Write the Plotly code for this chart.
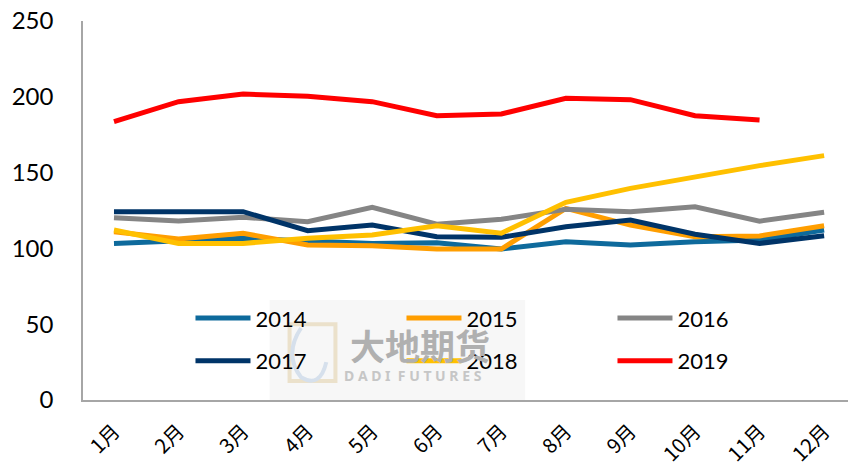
import plotly.graph_objects as go

months = ["1月", "2月", "3月", "4月", "5月", "6月", "7月", "8月", "9月", "10月", "11月", "12月"]
y2014 = [103.3, 104.9, 106.7, 104.9, 103.3, 103.8, 99.6, 104.4, 102.2, 104.4, 105.5, 112.1]
y2015 = [111.0, 106.2, 110.0, 102.2, 101.8, 99.6, 99.6, 126.4, 115.4, 107.7, 108.2, 115.0]
y2016 = [120.3, 118.0, 120.5, 117.6, 127.1, 116.0, 119.2, 125.8, 124.2, 127.5, 118.0, 123.8]
y2017 = [124.2, 124.2, 124.2, 111.7, 115.4, 107.7, 107.3, 114.3, 118.7, 109.3, 103.3, 108.4]
y2018 = [112.1, 103.3, 103.3, 106.7, 108.8, 115.0, 110.0, 130.4, 139.6, 147.3, 154.6, 161.2]
y2019 = [183.6, 196.8, 201.8, 200.3, 196.8, 187.5, 188.7, 199.0, 198.1, 187.5, 184.7, None]

series = [
    ("2014", y2014, "#0E6A9C", "legend"),
    ("2015", y2015, "#FF9E00", "legend"),
    ("2016", y2016, "#858585", "legend"),
    ("2017", y2017, "#003468", "legend2"),
    ("2018", y2018, "#FFC000", "legend2"),
    ("2019", y2019, "#FF0000", "legend2"),
]

fig = go.Figure()
for name, vals, color, lg in series:
    fig.add_trace(go.Scatter(
        x=months, y=vals, name=name, mode="lines",
        line=dict(color=color, width=5), legend=lg,
    ))

# faint watermark (background box, logo, text)
fig.add_shape(type="rect", xref="paper", yref="paper", x0=0.244, x1=0.578, y0=0.0, y1=0.264,
              fillcolor="#F7F7F7", line=dict(width=0), layer="below")
fig.add_shape(type="rect", xref="paper", yref="paper", x0=0.27, x1=0.33, y0=0.05, y1=0.2,
              fillcolor="rgba(0,0,0,0)", line=dict(width=4, color="#EBE1CB"), layer="below")
fig.add_shape(type="path", xref="paper", yref="paper",
              path="M 0.285,0.19 Q 0.262,0.12 0.285,0.06 Q 0.31,0.03 0.318,0.1",
              fillcolor="rgba(0,0,0,0)", line=dict(width=4, color="#D6E0EC"), layer="below")
fig.add_annotation(text="<b>大地期货</b>", xref="paper", yref="paper", x=0.44, y=0.075,
                   showarrow=False, font=dict(family="Noto Sans CJK SC", size=35, color="#B0B0B0"))
fig.add_annotation(text="<b>D A D I  F U T U R E S</b>", xref="paper", yref="paper", x=0.432, y=0.035,
                   showarrow=False, font=dict(family="Noto Sans", size=14, color="#C6C6C6"))

legend_common = dict(
    orientation="h", xanchor="left", yanchor="middle",
    bgcolor="rgba(0,0,0,0)", entrywidth=141, entrywidthmode="pixels",
    itemwidth=55, font=dict(family="Lato", size=22, color="#000000"),
)

fig.update_layout(
    width=848, height=469,
    margin=dict(l=83, r=0, t=21, b=69),
    paper_bgcolor="white", plot_bgcolor="white",
    font=dict(family="Lato", size=22, color="#000000"),
    showlegend=True,
    legend=dict(x=0.1405, y=0.216, **legend_common),
    legend2=dict(x=0.1405, y=0.103, **legend_common),
    xaxis=dict(
        type="category", range=[-0.48, 11.37], showgrid=False, zeroline=False,
        showline=True, linecolor="#A6A6A6", linewidth=1.5, ticks="",
        tickangle=-45, automargin=False, ticklabelstandoff=10,
        tickfont=dict(family="Noto Sans CJK SC", size=20, color="#000000"),
    ),
    yaxis=dict(
        range=[0, 250], dtick=50, showgrid=False, zeroline=False,
        showline=True, linecolor="#A6A6A6", linewidth=1.5, ticks="",
        ticklabelstandoff=23, automargin=False,
        tickfont=dict(family="Lato", size=24, color="#000000"),
    ),
)

fig.write_html("out.html", config={"displayModeBar": False},
               post_script="document.body.style.margin='0';document.body.style.padding='0';")
